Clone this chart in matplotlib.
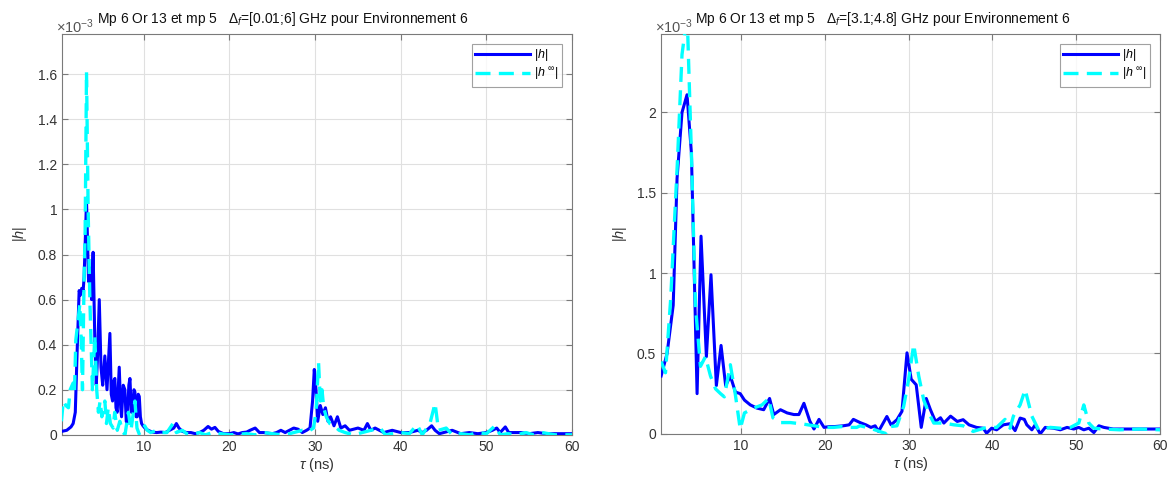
import numpy as np
import matplotlib
matplotlib.use("Agg")
import matplotlib.pyplot as plt

plt.rcParams["font.family"] = ["Liberation Sans", "DejaVu Sans"]
plt.rcParams["mathtext.fontset"] = "custom"
plt.rcParams["mathtext.rm"] = "Liberation Sans"
plt.rcParams["mathtext.it"] = "Liberation Sans:italic"
plt.rcParams["mathtext.sf"] = "Liberation Sans"

# ---- data (|h| in units of 1e-3, tau in ns) ----
# left : Δf = [0.01;6] GHz
tau_L_h = [0.38, 1.0, 1.5, 1.75, 2.0, 2.2, 2.45, 2.6, 2.75, 2.92, 3.03, 3.31, 3.55, 3.75,
           3.9, 4.08, 4.28, 4.45, 4.6, 4.8, 5.0, 5.2, 5.45, 5.7, 6.04, 6.2, 6.35, 6.5,
           6.62, 6.75, 6.89, 7.13, 7.3, 7.4, 7.6, 7.79, 7.95, 8.06, 8.25, 8.38, 8.55,
           8.69, 8.85, 8.96, 9.1, 9.23, 9.35, 9.47, 9.6, 9.74, 9.9, 10.13, 10.5, 11.0,
           11.5, 12.0, 12.5, 13.0, 13.5, 13.8, 14.1, 14.5, 15.0, 15.5, 16.0, 16.5, 17.0,
           17.5, 17.9, 18.3, 18.7, 19.3, 20.0, 20.5, 21.0, 21.5, 22.0, 22.4, 23.0, 23.5,
           24.0, 25.0, 25.5, 26.0, 26.5, 27.0, 27.5, 28.0, 28.5, 29.0, 29.4, 29.7, 29.9,
           30.1, 30.3, 30.6, 30.9, 31.2, 31.5, 31.8, 32.2, 32.6, 33.0, 33.5, 34.0, 35.0,
           35.7, 36.1, 36.5, 37.0, 38.0, 39.0, 40.0, 41.0, 42.0, 42.5, 43.0, 43.6, 44.0,
           44.5, 45.0, 46.0, 47.0, 48.0, 49.0, 50.0, 50.7, 51.2, 51.6, 52.2, 52.6, 53.0,
           54.0, 55.0, 56.0, 57.0, 58.0, 59.0, 60.0]
h_L = [0.015, 0.02, 0.035, 0.05, 0.1, 0.35, 0.64, 0.62, 0.65, 0.64, 0.70, 1.04, 0.68, 0.74,
       0.60, 0.81, 0.42, 0.22, 0.35, 0.60, 0.30, 0.22, 0.35, 0.20, 0.45, 0.18, 0.15, 0.24,
       0.25, 0.12, 0.10, 0.30, 0.12, 0.08, 0.22, 0.20, 0.06, 0.05, 0.22, 0.25, 0.10,
       0.10, 0.20, 0.19, 0.08, 0.08, 0.18, 0.17, 0.08, 0.05, 0.04, 0.03, 0.02, 0.012,
       0.01, 0.012, 0.01, 0.02, 0.03, 0.05, 0.03, 0.015, 0.01, 0.01, 0.005, 0.01, 0.02,
       0.037, 0.025, 0.033, 0.015, 0.005, 0.005, 0.01, 0.004, 0.01, 0.012, 0.02, 0.03, 0.01,
       0.01, 0.005, 0.01, 0.02, 0.01, 0.02, 0.03, 0.025, 0.01, 0.02, 0.03, 0.15, 0.29,
       0.20, 0.06, 0.13, 0.09, 0.12, 0.06, 0.08, 0.04, 0.08, 0.03, 0.04, 0.02, 0.03,
       0.02, 0.05, 0.02, 0.03, 0.01, 0.02, 0.01, 0.01, 0.02, 0.01, 0.02, 0.04, 0.02,
       0.005, 0.01, 0.02, 0.005, 0.01, 0.005, 0.01, 0.02, 0.03, 0.01, 0.035, 0.01, 0.01,
       0.01, 0.005, 0.01, 0.005, 0.005, 0.005, 0.005]

tau_L_inf = [0.38, 0.6, 0.9, 1.2, 1.4, 1.75, 1.9, 2.06, 2.3, 2.53, 2.7, 2.84, 3.03, 3.15,
             3.31, 3.5, 3.7, 3.85, 4.0, 4.28, 4.5, 4.7, 4.9, 5.1, 5.45, 5.64, 5.85, 6.1,
             6.42, 6.6, 6.9, 7.2, 7.6, 7.8, 8.2, 8.5, 8.96, 9.2, 9.5, 9.8, 10.1, 10.4,
             10.8, 11.5, 12.0, 12.7, 13.4, 13.8, 14.5, 15.0, 15.6, 16.5, 17.2, 18.0, 19.0,
             20.0, 22.0, 23.0, 24.0, 25.0, 26.0, 27.0, 27.5, 28.5, 29.2, 29.8, 30.1, 30.4,
             30.6, 30.8, 31.0, 31.3, 31.7, 32.2, 32.8, 33.5, 34.5, 35.5, 36.5, 37.6, 38.2,
             39.0, 40.0, 41.0, 41.9, 42.5, 43.4, 44.0, 44.4, 45.3, 46.0, 47.0, 48.0, 49.0,
             50.0, 51.0, 51.6, 52.5, 53.5, 54.6, 55.5, 56.5, 58.0, 60.0]
h_L_inf = [0.06, 0.15, 0.13, 0.12, 0.2, 0.23, 0.18, 0.42, 0.5, 0.58, 0.4, 0.2, 0.7, 0.9,
           1.61, 1.0, 0.6, 0.4, 0.2, 0.44, 0.2, 0.1, 0.15, 0.08, 0.15, 0.05, 0.12, 0.05,
           0.03, 0.1, 0.02, 0.06, 0.01, 0.0, 0.1, 0.02, 0.15, 0.03, 0.0, 0.02, 0.04, 0.02,
           0.01, 0.02, 0.01, 0.01, 0.05, 0.01, 0.02, 0.005, 0.0, 0.01, 0.0, 0.01, 0.005,
           0.0, 0.005, 0.0, 0.01, 0.005, 0.0, 0.005, 0.01, 0.02, 0.015, 0.03, 0.1, 0.32,
           0.15, 0.2, 0.12, 0.08, 0.05, 0.04, 0.02, 0.01, 0.0, 0.01, 0.02, 0.03, 0.0,
           0.005, 0.01, 0.005, 0.045, 0.0, 0.05, 0.14, 0.02, 0.03, 0.0, 0.005, 0.0, 0.01,
           0.005, 0.04, 0.0, 0.005, 0.0, 0.01, 0.0, 0.01, 0.0, 0.0]

# right : Δf = [3.1;4.8] GHz
tau_R_h = [0.46, 1.17, 1.9, 2.36, 2.95, 3.55, 4.07, 4.75, 5.22, 5.86, 6.41, 7.05, 7.61,
           8.16, 8.72, 9.32, 9.9, 10.4, 11.1, 11.9, 12.7, 13.4, 13.9, 14.7, 15.5, 16.3,
           16.9, 17.5, 18.2, 18.7, 19.3, 19.9, 20.5, 21.1, 22.2, 22.9, 23.4, 24.2, 24.9,
           25.5, 26.0, 26.4, 27.4, 27.9, 28.6, 29.2, 29.8, 30.3, 30.9, 31.5, 32.1, 32.6,
           33.2, 33.8, 34.2, 35.0, 35.8, 36.5, 37.2, 38.1, 38.9, 39.3, 39.9, 40.5, 41.3,
           42.1, 42.7, 43.3, 43.8, 44.1, 44.7, 45.1, 45.7, 46.3, 47.3, 48.1, 48.9, 49.7,
           50.3, 50.9, 51.5, 52.1, 52.7, 53.3, 54.4, 56.0, 57.6, 60.0]
h_R = [0.36, 0.50, 0.80, 1.59, 2.0, 2.11, 1.75, 0.25, 1.23, 0.48, 0.99, 0.30, 0.55,
       0.30, 0.36, 0.26, 0.25, 0.21, 0.18, 0.16, 0.15, 0.22, 0.12, 0.15, 0.13, 0.12,
       0.12, 0.19, 0.08, 0.03, 0.09, 0.04, 0.045, 0.045, 0.05, 0.056, 0.09, 0.07, 0.056,
       0.04, 0.05, 0.015, 0.108, 0.056, 0.088, 0.14, 0.504, 0.34, 0.305, 0.04, 0.22, 0.15,
       0.077, 0.10, 0.067, 0.11, 0.077, 0.088, 0.056, 0.04, 0.035, 0.004, 0.035, 0.025, 0.056,
       0.063, 0.02, 0.098, 0.09, 0.056, 0.025, 0.056, 0.0, 0.04, 0.035, 0.025, 0.04, 0.03,
       0.04, 0.025, 0.035, 0.008, 0.05, 0.04, 0.03, 0.03, 0.03, 0.03]

tau_R_inf = [0.46, 0.98, 1.6, 2.4, 2.95, 3.3, 3.6, 4.07, 4.55, 5.15, 5.75, 6.35, 6.95,
             7.55, 8.0, 8.72, 9.3, 9.9, 10.4, 11.5, 12.5, 13.3, 13.8, 14.7, 15.9, 17.5,
             18.7, 20.0, 21.0, 22.0, 22.6, 23.8, 24.2, 25.4, 26.8, 27.4, 27.8, 28.6, 29.4,
             30.0, 30.6, 31.2, 31.8, 32.4, 33.0, 34.2, 35.4, 36.5, 37.7, 39.3, 40.5, 41.5,
             42.1, 42.5, 43.3, 43.9, 44.7, 45.5, 46.9, 48.1, 49.3, 50.3, 50.9, 51.5, 52.1,
             53.3, 55.2, 57.6, 60.0]
h_R_inf = [0.45, 0.38, 0.84, 1.69, 2.36, 2.50, 2.55, 1.75, 0.80, 0.42, 0.48, 0.36, 0.28,
           0.25, 0.23, 0.43, 0.25, 0.03, 0.13, 0.16, 0.18, 0.22, 0.10, 0.07, 0.07, 0.06,
           0.05, 0.04, 0.04, 0.045, 0.04, 0.04, 0.05, 0.035, 0.01, 0.0, 0.045, 0.05, 0.17,
           0.34, 0.556, 0.36, 0.21, 0.13, 0.067, 0.067, 0.056, 0.05, 0.015, 0.04, 0.04, 0.09,
           0.035, 0.11, 0.18, 0.275, 0.11, 0.025, 0.04, 0.035, 0.04, 0.067, 0.18, 0.067, 0.035,
           0.03, 0.025, 0.03, 0.025]

titles = ["Mp 6 Or 13 et mp 5   $\\Delta_f$=[0.01;6] GHz pour Environnement 6",
          "Mp 6 Or 13 et mp 5   $\\Delta_f$=[3.1;4.8] GHz pour Environnement 6"]
yticks_L = [0, 0.2, 0.4, 0.6, 0.8, 1.0, 1.2, 1.4, 1.6]
yticks_R = [0, 0.5, 1.0, 1.5, 2.0]
xticks = [10, 20, 30, 40, 50, 60]

fig = plt.figure(figsize=(11.7, 4.88), dpi=100)
ax1 = fig.add_axes([0.053, 0.109, 0.436, 0.822])
ax2 = fig.add_axes([0.565, 0.111, 0.4265, 0.820])

panels = [(ax1, tau_L_h, h_L, tau_L_inf, h_L_inf, yticks_L, 1.78, titles[0]),
          (ax2, tau_R_h, h_R, tau_R_inf, h_R_inf, yticks_R, 2.49, titles[1])]

axc = "#7a7a7a"
for ax, th, hh, ti, hi, yt, ytop, ttl in panels:
    ax.plot(th, hh, color="#0000ff", lw=2.2, label="$|h|$", zorder=3)
    ax.plot(ti, hi, color="#00ffff", lw=2.4, ls=(0, (4.5, 2.5)),
            label="$|h^{\\ \\infty}|$", zorder=4)
    ax.set_xlim(0.45, 60)
    ax.set_ylim(0, ytop)
    ax.set_xticks(xticks)
    ax.set_yticks(yt)
    ax.set_yticklabels([f"{v:g}" for v in yt])
    ax.grid(True, color="#e0e0e0", lw=0.8)
    ax.set_axisbelow(True)
    for s in ax.spines.values():
        s.set_color(axc)
        s.set_linewidth(0.8)
    ax.tick_params(direction="in", length=4, colors=axc, labelcolor="#333333",
                   labelsize=10, top=True, right=True)
    ax.set_xlabel("$\\tau$ (ns)", fontsize=10.5, color="#333333", labelpad=2)
    ax.set_ylabel("$|h|$", fontsize=10.5, color="#333333", labelpad=6)
    ax.text(-0.012, 0.995, "$\\times10^{-3}$", transform=ax.transAxes, fontsize=10.5,
            color="#555555", ha="left", va="bottom")
    ax.text(0.068, 1.013, ttl, transform=ax.transAxes, fontsize=10,
            color="#111111", ha="left", va="bottom")
    leg = ax.legend(loc="upper right", fontsize=9, handlelength=4.4,
                    frameon=True, fancybox=False, borderpad=0.3,
                    labelspacing=0.2, handletextpad=0.3, borderaxespad=0.8)
    leg.get_frame().set_edgecolor("#8a8a8a")
    leg.get_frame().set_linewidth(0.8)

fig.savefig("out.png", dpi=100)
